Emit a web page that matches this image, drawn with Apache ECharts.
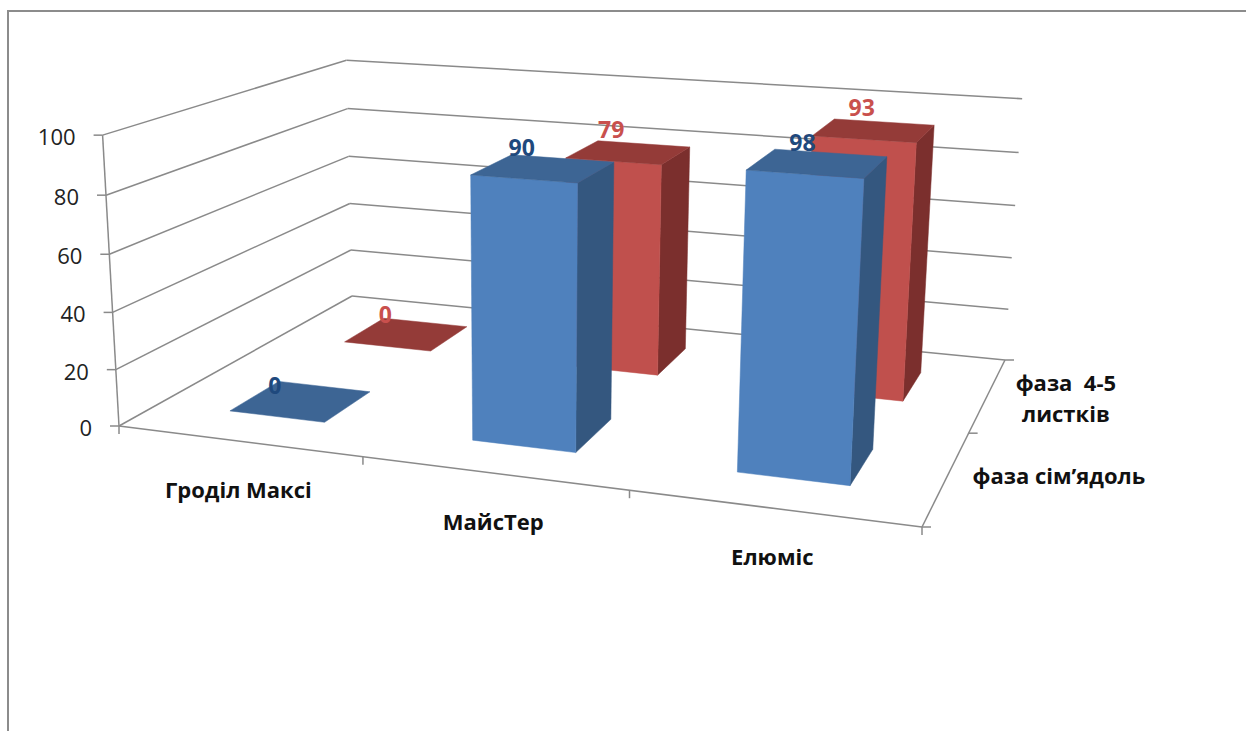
<!DOCTYPE html>
<html><head><meta charset="utf-8">
<script src="https://cdn.jsdelivr.net/npm/echarts@6/dist/echarts.min.js"></script>
<style>html,body{margin:0;padding:0;background:#fff;overflow:hidden}#c{width:1246px;height:731px}</style>
</head><body><div id="c"></div>
<script>
// ---------- data ----------
const categories = ['Гроділ Максі', 'МайсТер', 'Елюміс'];
const seriesNames = ['фаза сім’ядоль', 'фаза  4-5\nлистків'];
const valuesCotyledon = [0, 90, 98];
const valuesLeaves45 = [0, 79, 93];
const yTicks = [0, 20, 40, 60, 80, 100];
const yTickLabels = ['0', '20', '40', '60', '80', '100'];

// ---------- layout (3D frame anchors on screen) ----------
const Y_MAX = 100, NX = categories.length, NZ = seriesNames.length;
const FLOOR = [[0, 0, 119, 426], [NX, 0, 922, 527], [0, NZ, 352, 296], [NX, NZ, 1005, 360]];
const TOPS = [[0, 0, 102, 135], [0, NZ, 347, 61], [NX, NZ, 1022, 98]];
const BAR_HALF = 0.2, ROW_OFF = 0.3, BAR_DEPTH = 0.4;
const GRID = '#8a8a8a';
const FONT = '"Open Sans", "DejaVu Sans", sans-serif';
const COLS = [
  {front: '#4F81BD', side: '#34577F', top: '#3D6594', label: '#1F497D'},
  {front: '#C0504D', side: '#7B2F2D', top: '#943B38', label: '#C9504D'}
];

function solve(A, b) {
  const n = b.length, M = A.map((r, i) => r.concat([b[i]]));
  for (let c = 0; c < n; c++) {
    let p = c;
    for (let r = c + 1; r < n; r++) if (Math.abs(M[r][c]) > Math.abs(M[p][c])) p = r;
    [M[c], M[p]] = [M[p], M[c]];
    for (let r = 0; r < n; r++) {
      if (r === c) continue;
      const f = M[r][c] / M[c][c];
      for (let k = c; k <= n; k++) M[r][k] -= f * M[c][k];
    }
  }
  return M.map((r, i) => r[n] / r[i]);
}
// floor homography
const A = [], B = [];
FLOOR.forEach(([X, Z, u, v]) => {
  A.push([X, Z, 1, 0, 0, 0, -u * X, -u * Z]); B.push(u);
  A.push([0, 0, 0, X, Z, 1, -v * X, -v * Z]); B.push(v);
});
const h = solve(A, B);
function floorH(X, Z) {
  return [h[0] * X + h[1] * Z + h[2], h[3] * X + h[4] * Z + h[5], h[6] * X + h[7] * Z + 1];
}
// vertical column by least squares
const NA = [[0, 0, 0], [0, 0, 0], [0, 0, 0]], NB = [0, 0, 0];
TOPS.forEach(([X, Z, tu, tv]) => {
  const [U, V, Wv] = floorH(X, Z), Y = Y_MAX;
  [[[Y, 0, -tu * Y], tu * Wv - U], [[0, Y, -tv * Y], tv * Wv - V]].forEach(([row, rhs]) => {
    for (let i = 0; i < 3; i++) { NB[i] += row[i] * rhs; for (let j = 0; j < 3; j++) NA[i][j] += row[i] * row[j]; }
  });
});
const colY = solve(NA, NB);
function P(X, Y, Z) {
  const [U, V, Wv] = floorH(X, Z);
  const w = Wv + colY[2] * Y;
  return [(U + colY[0] * Y) / w, (V + colY[1] * Y) / w];
}

function ctx(api) {
  const band = api.size([1, 0])[0];
  const ys = api.size([0, Y_MAX])[1];
  const o = api.coord([0, 0]);
  return {wx: px => (px - o[0]) / band + 0.5, wy: py => (o[1] - py) / ys * Y_MAX};
}
const ln = (a, b, w) => ({type: 'line', shape: {x1: a[0], y1: a[1], x2: b[0], y2: b[1]}, style: {stroke: GRID, lineWidth: w || 1.5}});

function frameRender(params, api) {
  const t = ctx(api);
  const Y = t.wy(api.coord([0, api.value(1)])[1]);
  const a = P(0, Y, 0), b = P(0, Y, NZ), c = P(NX, Y, NZ);
  const ch = [ln(a, b), ln(b, c), ln(a, [a[0] - 9, a[1]]),
    {type: 'text', x: a[0] - 27, y: a[1] + 1, style: {text: yTickLabels[params.dataIndex], fill: '#222', font: '22px ' + FONT, align: 'right', verticalAlign: 'middle'}}];
  if (params.dataIndex === 0) {
    ch.push(ln(P(0, 0, 0), P(0, Y_MAX, 0)));
    ch.push(ln(P(0, 0, 0), P(NX, 0, 0)));
    ch.push(ln(P(NX, 0, 0), P(NX, 0, NZ)));
    for (let z = 0; z <= NZ; z++) { const q = P(NX, 0, z); ch.push(ln(q, [q[0] + 9, q[1]])); }
  }
  return {type: 'group', children: ch};
}
function catRender(params, api) {
  const t = ctx(api);
  const Xc = t.wx(api.coord([api.value(0), 0])[0]);
  const ch = [];
  const e = P(Xc + 0.5, 0, 0); ch.push(ln(e, [e[0], e[1] + 8]));
  if (params.dataIndex === 0) { const s = P(Xc - 0.5, 0, 0); ch.push(ln(s, [s[0], s[1] + 8])); }
  const m = P(Xc, 0, 0);
  ch.push({type: 'text', x: m[0], y: m[1] + 48, style: {text: categories[params.dataIndex], fill: '#111', font: 'bold 22px ' + FONT, align: 'center', verticalAlign: 'middle'}});
  return {type: 'group', children: ch};
}
const DEPTH_LABEL_DX = [112, 78], DEPTH_LABEL_DY = [-2, 3];
function depthRender(params, api) {
  const r = params.dataIndex;
  const m = P(NX, 0, r + 0.5);
  return {type: 'text', x: m[0] + DEPTH_LABEL_DX[r], y: m[1] + DEPTH_LABEL_DY[r], style: {text: seriesNames[r], fill: '#111', font: 'bold 22px ' + FONT, align: 'center', verticalAlign: 'middle', lineHeight: 31}};
}
function makeBar(row) {
  const col = COLS[row];
  return function (params, api) {
    const t = ctx(api);
    const ci = api.value(0), v = api.value(1);
    const base = api.coord([ci, 0]), top = api.coord([ci, v]);
    const Xc = t.wx(base[0]), Yt = t.wy(top[1]);
    const x0 = Xc - BAR_HALF, x1 = Xc + BAR_HALF, z0 = row + ROW_OFF, z1 = z0 + BAR_DEPTH;
    const poly = (pts, fill) => ({type: 'polygon', shape: {points: pts}, style: {fill: fill, stroke: fill, lineWidth: 0.5}});
    const ch = [];
    if (Yt > 0) {
      ch.push(poly([P(x1, 0, z0), P(x1, 0, z1), P(x1, Yt, z1), P(x1, Yt, z0)], col.side));
      ch.push(poly([P(x0, 0, z0), P(x1, 0, z0), P(x1, Yt, z0), P(x0, Yt, z0)], col.front));
    }
    ch.push(poly([P(x0, Yt, z0), P(x1, Yt, z0), P(x1, Yt, z1), P(x0, Yt, z1)], col.top));
    const lp = P(Xc, Yt, z0);
    ch.push({type: 'text', x: lp[0] - 2, y: lp[1] - 32, style: {text: String(v), fill: col.label, font: 'bold 23px ' + FONT, align: 'center', verticalAlign: 'middle'}});
    return {type: 'group', children: ch};
  };
}

const chart = echarts.init(document.getElementById('c'), null, {renderer: 'svg'});
chart.setOption({
  animation: false,
  backgroundColor: '#fff',
  graphic: [{type: 'rect', shape: {x: 8, y: 11, width: 1400, height: 900}, style: {fill: 'none', stroke: '#8c8c8c', lineWidth: 2}, silent: true}],
  grid: {left: 0, top: 0, width: 300, height: 100, show: false},
  xAxis: {type: 'category', data: categories, show: false},
  yAxis: {type: 'value', min: 0, max: Y_MAX, interval: 20, show: false},
  series: [
    {type: 'custom', name: 'frame', clip: false, renderItem: frameRender, data: yTicks.map(v => [0, v]), z: 1},
    {type: 'custom', name: 'cats', clip: false, renderItem: catRender, data: categories.map((c, i) => [i, 0]), z: 1},
    {type: 'custom', name: 'depth', clip: false, renderItem: depthRender, data: seriesNames.map((s, i) => [0, 0]), z: 1},
    {type: 'custom', name: seriesNames[1], clip: false, renderItem: makeBar(1), data: valuesLeaves45.map((v, i) => [i, v]), z: 2},
    {type: 'custom', name: seriesNames[0], clip: false, renderItem: makeBar(0), data: valuesCotyledon.map((v, i) => [i, v]), z: 3}
  ]
});
</script></body></html>
